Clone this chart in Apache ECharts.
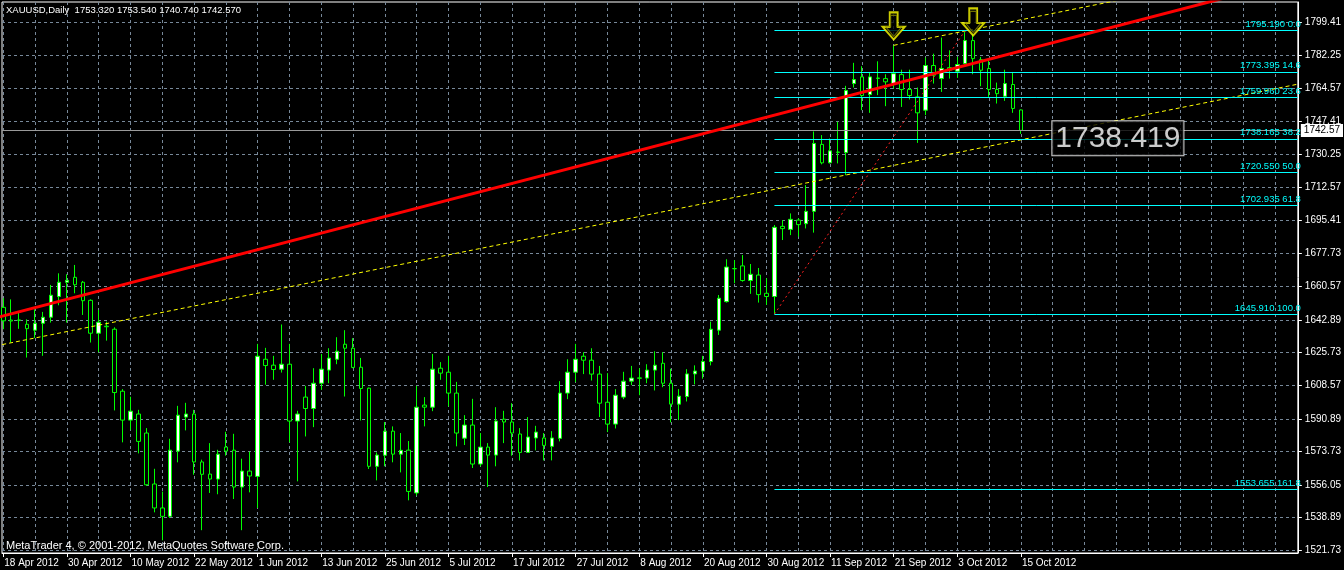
<!DOCTYPE html>
<html><head><meta charset="utf-8">
<script src="https://cdn.jsdelivr.net/npm/echarts@6/dist/echarts.min.js"></script>
<style>html,body{margin:0;padding:0;background:#000;}#c{width:1344px;height:570px;}</style>
</head><body><div id="c"></div>
<script>
// ---- data ----
const symbolName = 'XAUUSD,Daily';
const xLabels = ['18 Apr 2012','30 Apr 2012','10 May 2012','22 May 2012','1 Jun 2012','13 Jun 2012','25 Jun 2012','5 Jul 2012','17 Jul 2012','27 Jul 2012','8 Aug 2012','20 Aug 2012','30 Aug 2012','11 Sep 2012','21 Sep 2012','3 Oct 2012','15 Oct 2012'];
const yTickLabels = [1521.73,1538.89,1556.05,1573.73,1590.89,1608.57,1625.73,1642.89,1660.57,1677.73,1695.41,1712.57,1730.25,1747.41,1764.57,1782.25,1799.41];
const opens = [1649.5,1642.8,1642.9,1640.6,1637.5,1641.1,1644.3,1655.2,1662.7,1665.3,1662.7,1653.2,1635.9,1639.6,1638.0,1605.4,1590.2,1593.4,1583.4,1556.6,
1544.0,1539.6,1573.9,1591.8,1593.4,1568.2,1561.8,1559.2,1576.0,1574.4,1555.0,1563.4,1560.6,1622.2,1619.1,1617.0,1619.6,1589.7,1602.3,1596.3,
1609.6,1616.5,1622.2,1630.1,1628.0,1618.0,1607.0,1565.9,1571.7,1584.4,1572.3,1574.4,1551.9,1598.1,1597.0,1617.5,1615.4,1604.4,1580.7,1587.6,
1567.1,1576.0,1571.8,1590.7,1589.2,1582.9,1573.2,1580.8,1580.8,1576.4,1580.6,1604.4,1615.4,1623.8,1621.7,1614.4,1599.6,1588.1,1602.3,1610.7,
1612.4,1612.3,1616.5,1620.1,1609.6,1598.6,1602.6,1614.5,1616.0,1621.0,1637.5,1652.5,1669.9,1671.3,1663.6,1666.5,1656.9,1655.2,1692.1,1690.5,
1695.4,1693.5,1700.0,1735.2,1725.5,1731.2,1730.9,1767.2,1770.7,1761.4,1770.1,1769.8,1767.2,1771.9,1764.1,1760.2,1753.2,1776.7,1769.8,1775.6,
1773.7,1777.7,1789.8,1779.8,1775.1,1764.1,1760.5,1766.7,1753.32];
const highs = [1654.3,1653.7,1646.7,1643.2,1648.5,1647.1,1661.3,1667.4,1666.9,1671.8,1663.4,1653.7,1648.1,1642.0,1639.0,1606.5,1602.5,1595.6,1586.0,1564.6,
1552.6,1580.4,1597.7,1599.3,1595.6,1569.4,1578.1,1574.6,1584.1,1583.0,1569.9,1573.6,1630.3,1628.2,1624.0,1640.5,1630.3,1595.1,1608.2,1617.5,
1625.0,1628.0,1633.8,1637.5,1633.3,1622.9,1607.3,1573.2,1589.2,1586.9,1583.4,1579.2,1608.2,1602.3,1625.0,1620.7,1624.0,1610.3,1592.8,1601.4,
1583.4,1578.1,1597.0,1595.1,1599.1,1586.0,1591.8,1587.2,1583.4,1584.4,1610.7,1622.2,1630.3,1625.9,1628.0,1618.7,1614.9,1606.5,1615.6,1618.7,
1617.5,1619.6,1626.4,1625.9,1617.2,1606.5,1617.0,1619.0,1624.0,1642.0,1656.0,1674.8,1674.4,1677.0,1672.3,1670.2,1664.8,1692.8,1695.4,1698.9,
1696.3,1713.8,1742.0,1740.1,1738.3,1747.1,1766.0,1778.1,1776.3,1773.3,1778.9,1772.1,1787.3,1774.5,1774.5,1765.1,1780.9,1782.9,1791.4,1784.7,
1781.2,1795.19,1793.5,1781.2,1779.8,1767.7,1774.5,1773.3,1753.54];
const lows = [1638.0,1631.0,1638.2,1623.1,1633.3,1624.0,1641.5,1650.6,1641.5,1656.9,1645.5,1631.0,1625.9,1632.0,1595.3,1578.5,1585.1,1572.7,1555.7,1541.7,
1527.0,1538.7,1568.0,1584.8,1561.5,1532.3,1551.9,1551.2,1571.5,1548.7,1532.3,1552.2,1544.0,1608.8,1611.4,1615.2,1578.5,1558.0,1581.6,1586.5,
1606.1,1609.6,1619.6,1602.6,1617.5,1590.0,1564.5,1558.5,1565.9,1568.0,1562.7,1548.0,1550.5,1586.9,1594.9,1611.4,1597.4,1576.4,1577.1,1565.0,
1565.9,1555.0,1565.9,1578.1,1571.5,1569.0,1572.9,1574.3,1569.0,1569.0,1579.0,1601.2,1610.2,1614.4,1611.0,1591.8,1583.9,1585.8,1601.2,1608.6,
1603.3,1609.6,1605.8,1607.5,1589.0,1590.2,1600.0,1609.0,1612.0,1619.0,1635.0,1652.0,1662.2,1663.0,1656.6,1652.0,1650.8,1645.91,1684.9,1687.5,
1686.7,1691.0,1688.8,1724.7,1725.2,1725.2,1719.0,1765.1,1753.2,1751.8,1761.1,1755.3,1764.6,1754.9,1758.8,1736.0,1750.6,1767.2,1762.8,1769.8,
1770.2,1777.2,1772.1,1765.8,1760.2,1756.7,1758.1,1751.8,1740.74];
const closes = [1642.4,1642.3,1642.6,1638.3,1641.1,1644.3,1655.9,1662.7,1663.7,1661.4,1653.0,1635.9,1641.7,1639.3,1604.7,1590.2,1594.9,1579.0,1556.2,1544.0,
1539.6,1574.4,1592.8,1593.4,1568.2,1561.7,1559.2,1572.3,1573.9,1555.0,1563.4,1560.8,1623.8,1618.9,1616.8,1619.6,1589.7,1593.4,1596.3,1609.6,
1617.0,1622.8,1626.4,1628.0,1617.9,1606.8,1565.9,1571.8,1584.4,1572.3,1574.3,1552.7,1597.0,1597.0,1617.0,1614.9,1604.4,1583.4,1587.6,1567.1,
1576.0,1571.8,1589.7,1589.2,1583.4,1573.2,1581.3,1583.9,1576.9,1580.8,1604.4,1615.4,1622.2,1621.7,1614.4,1599.1,1588.1,1603.3,1610.7,1612.3,
1612.2,1616.5,1619.1,1609.6,1598.6,1602.8,1614.5,1616.0,1621.0,1638.0,1654.3,1670.7,1669.8,1663.6,1666.9,1656.2,1655.2,1691.6,1690.9,1695.8,
1693.0,1700.0,1735.7,1725.5,1731.8,1731.0,1763.5,1769.3,1760.9,1770.7,1769.9,1768.1,1772.4,1764.1,1760.9,1751.8,1776.7,1771.6,1775.1,1774.2,
1777.2,1789.8,1780.3,1774.2,1764.1,1761.9,1767.2,1754.1,1742.57];
const fibPrices = [1795.190,1773.395,1759.960,1738.165,1720.550,1702.935,1645.910,1553.655];
const fibLevels = [0.0,14.6,23.6,38.2,50.0,61.8,100.0,161.8];
const fibStartBar = 97;
const redTrend = [[-1, 1643.9],[165, 1824.6]];
const yellowLower = [[-1, 1629.2],[165, 1768.7]];
const yellowUpper = [[112, 1787.3],[160, 1827.6]];
const redDotted = [[97, 1645.91],[121, 1795.19]];
const arrowPoints = [[112, 1797.5],[122, 1799.6]];
const textLabel = {bar: 140.2, price: 1738.419, text: '1738.419'};
const bidPrice = 1742.57;

// ---- chart ----
const X_MIN = -0.1625, X_MAX = 162.8375;
const Y_MIN = 1520.31, Y_MAX = 1810.09;
const gridX = []; for (let k = 0; k <= 160; k += 4) gridX.push(k);
const labelX = xLabels.map((_, k) => k * 8);
const FONT = 'Liberation Sans';
const GRID = '#778899';

const candles = opens.map((o, i) => [i, o, closes[i], lows[i], highs[i]]);
const last = opens.length - 1;
const header = symbolName + '  ' + [opens[last], highs[last], lows[last], closes[last]].map(v => v.toFixed(3)).join(' ');

const fibMarks = fibPrices.map((p, k) => [
  {coord: [fibStartBar, p], label: {formatter: p.toFixed(3) + ' ' + fibLevels[k].toFixed(1)}},
  {coord: [X_MAX, p]}
]);

const arrowPath = 'path://M7,0 L15,0 L15,14 L22,14 L11,26 L0,14 L7,14 Z';

const option = {
  backgroundColor: '#000',
  animation: false,
  textStyle: {fontFamily: FONT},
  title: [
    {text: header, left: 6, top: 5, padding: 0, textStyle: {color: '#fff', fontSize: 9.5, fontWeight: 'normal', fontFamily: FONT}},
    {text: 'MetaTrader 4, \u00a9 2001-2012, MetaQuotes Software Corp.', left: 6, top: 540, padding: 0, textStyle: {color: '#fff', fontSize: 11, fontWeight: 'normal', fontFamily: FONT}}
  ],
  grid: {left: 2, top: 2, right: 38, bottom: 17, show: true, borderColor: '#fff', borderWidth: 1, backgroundColor: '#000'},
  xAxis: [
    {type: 'value', min: X_MIN, max: X_MAX, position: 'bottom',
     axisLine: {show: true, onZero: false, lineStyle: {color: '#fff'}},
     axisTick: {show: false, customValues: gridX},
     splitLine: {show: true, lineStyle: {color: GRID, type: [3, 3], width: 1}},
     axisLabel: {customValues: labelX, formatter: v => xLabels[Math.round(v / 8)] || '', color: '#fff', fontSize: 10, fontFamily: FONT, align: 'left', margin: 5, padding: [0, 0, 0, 1]}},
    {type: 'value', min: X_MIN, max: X_MAX, position: 'bottom',
     axisLine: {show: false, onZero: false},
     axisTick: {show: true, customValues: labelX, length: 4, lineStyle: {color: '#fff'}},
     splitLine: {show: false}, axisLabel: {show: false}}
  ],
  yAxis: [
    {type: 'value', min: Y_MIN, max: Y_MAX, position: 'right', scale: true,
     axisLine: {show: true, onZero: false, lineStyle: {color: '#fff'}},
     axisTick: {show: true, customValues: yTickLabels, length: 4, lineStyle: {color: '#fff'}},
     splitLine: {show: true, lineStyle: {color: GRID, type: [3, 3], width: 1}},
     axisLabel: {customValues: yTickLabels, formatter: v => v.toFixed(2), color: '#fff', fontSize: 10, fontFamily: FONT, margin: 7}}
  ],
  series: [
    {type: 'candlestick', xAxisIndex: 0, yAxisIndex: 0, barWidth: 4, data: candles, z: 2,
     itemStyle: {color: '#ffffff', color0: '#000000', borderColor: '#00ff00', borderColor0: '#00ff00', borderWidth: 1}},
    {type: 'line', xAxisIndex: 0, data: [], z: 3, silent: true,
     markLine: {silent: true, symbol: 'none', animation: false,
       lineStyle: {color: '#00ffff', width: 1, type: 'solid'},
       label: {show: true, position: 'insideEndTop', distance: [-3, 1], color: '#00ffff', fontSize: 9.5, fontFamily: FONT},
       data: fibMarks}},
    {type: 'line', xAxisIndex: 0, data: [], z: 3, silent: true,
     markLine: {silent: true, symbol: 'none', animation: false,
       lineStyle: {color: '#9a9a9a', width: 1, type: 'solid'},
       label: {show: true, position: 'end', distance: 3, formatter: bidPrice.toFixed(2), color: '#000', backgroundColor: '#fff', padding: [2, 3, 1, 3], fontSize: 10, fontFamily: FONT},
       data: [{yAxis: bidPrice}]}},
    {type: 'line', xAxisIndex: 0, data: yellowLower, symbol: 'none', z: 4, silent: true,
     lineStyle: {color: '#ffff00', width: 1, type: [4, 3]}},
    {type: 'line', xAxisIndex: 0, data: yellowUpper, symbol: 'none', z: 4, silent: true,
     lineStyle: {color: '#ffff00', width: 1, type: [4, 3]}},
    {type: 'line', xAxisIndex: 0, data: redDotted, symbol: 'none', z: 4, silent: true,
     lineStyle: {color: '#ff2020', width: 1, type: [2, 3]}},
    {type: 'line', xAxisIndex: 0, data: redTrend, symbol: 'none', z: 5, silent: true,
     lineStyle: {color: '#ff0000', width: 3}},
    {type: 'scatter', xAxisIndex: 0, data: arrowPoints, symbol: arrowPath, symbolSize: [22, 27], z: 6, silent: true,
     itemStyle: {color: '#000', borderColor: '#ffff00', borderWidth: 2}},
    {type: 'scatter', xAxisIndex: 0, data: arrowPoints, symbol: arrowPath, symbolSize: [16, 21], z: 7, silent: true,
     itemStyle: {color: 'rgba(0,0,0,0)', borderColor: '#8a8a00', borderWidth: 1}},
    {type: 'scatter', xAxisIndex: 0, data: [[textLabel.bar, textLabel.price]], symbolSize: 0, z: 6, silent: true,
     itemStyle: {color: '#000'},
     label: {show: true, position: 'inside', formatter: textLabel.text, color: '#ffffff', fontSize: 30, fontFamily: FONT,
       textBorderWidth: 0, backgroundColor: '#000', borderColor: '#fff', borderWidth: 1, padding: [3, 3, 1, 3]}}
  ]
};
const chart = echarts.init(document.getElementById('c'), null, {renderer: 'canvas', width: 1344, height: 570});
chart.setOption(option);
</script></body></html>
